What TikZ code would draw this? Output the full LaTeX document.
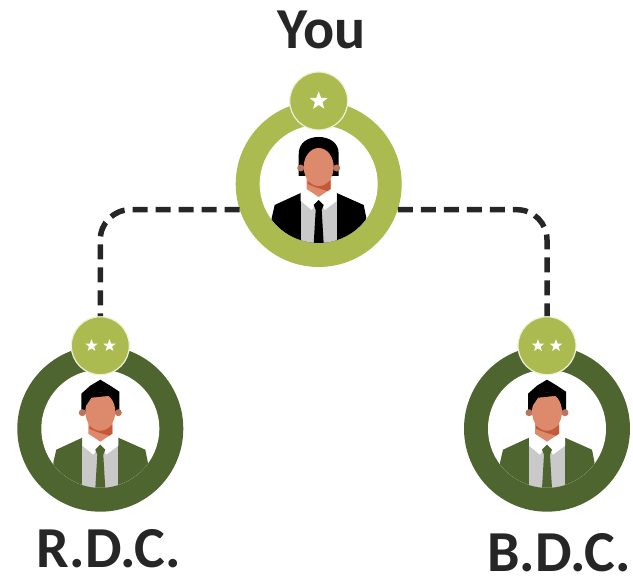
\documentclass[tikz,border=0pt]{standalone}
\usepackage{fontspec}
\setmainfont{Carlito}
\usetikzlibrary{shapes.geometric}
\definecolor{lightgreen}{HTML}{ABBB50}
\definecolor{darkgreen}{HTML}{4F6530}
\definecolor{paleedge}{HTML}{EEF1D8}
\definecolor{linegray}{HTML}{262626}
\definecolor{skin}{HTML}{DD8A6C}
\definecolor{skindark}{HTML}{C4593A}
\definecolor{shirtgray}{HTML}{C9C9C9}
\newcommand{\hairboss}{
  \fill[black] (-20,-8) -- (-20,-30) .. controls (-20,-42) and (-10,-47) .. (0,-47)
    .. controls (10,-47) and (20,-42) .. (20,-30) -- (20,-8) -- cycle;
}
\newcommand{\hairstaff}{
  \fill[black] (-19,-15) -- (-19,-35) -- (-10,-43) -- (0,-49) -- (10,-43) -- (19,-37) -- (19,-15) -- cycle;
  \fill[black] (-15,-34) -- (15,-34) -- (15,-25) -- (11,-34) -- (-10,-32) -- (-15,-22) -- cycle;
}
\tikzset{
  ring/.style={circle,minimum size=166pt,inner sep=0pt},
  hole/.style={circle,fill=white,minimum size=118pt,inner sep=0pt},
  badge/.style={circle,fill=lightgreen,draw=paleedge,line width=1.2pt,minimum size=58pt,inner sep=0pt},
  starmark/.style={star,star points=5,star point ratio=2.4,fill=white,minimum size=#1,inner sep=0pt},
  link/.style={linegray,line width=5.5pt,dash pattern=on 15pt off 8pt,rounded corners=30pt},
  title/.style={font=\fontsize{58}{60}\selectfont\bfseries,text=linegray,inner sep=0pt},
  pics/person/.style n args={2}{code={
    \begin{scope}
      \clip (0,0) circle (59);
      % Chaqueta y camisa
      \fill[#1] (-47,34) -- (-44,21) -- (-18,9) -- (18,9) -- (45,21) -- (48,36) -- (48,60) -- (-47,60) -- cycle;
      \fill[shirtgray] (-18,9) rectangle (18,60);
      % Cuello
      \fill[white] (-18,9) -- (-12,2) -- (12,2) -- (18,9) -- (18,17) -- (6,26) -- (0,16) -- (-7,26) -- (-18,17) -- cycle;
      \fill[#1] (0,16) -- (-5,21) -- (-3,26) -- (-5,60) -- (5,60) -- (3,26) -- (5,21) -- cycle;
    \end{scope}
    % Cabeza
    #2
    \fill[skin] (-12,-8) -- (12,-8) -- (12,5) -- (0,13) -- (-12,5) -- cycle;
    \fill[skindark] (-11,-3) .. controls (-4,2) and (6,2) .. (12,-4) -- (12,5) -- (9,7) .. controls (2,5) and (-5,3) .. (-11,0) -- cycle;
    \fill[skin!85!black] (-18,-16) circle (3.5) (18,-16) circle (3.5);
    \fill[skin] (0,-17) ellipse (15 and 19);
    \ifx#2\hairstaff
      \fill[black] (-15,-36) -- (15,-36) -- (15,-27) -- (10,-33) -- (-9,-31) -- (-15,-22) -- cycle;
    \else
      \fill[black] (-15,-24) .. controls (-14,-33) and (-8,-37) .. (0,-37) .. controls (8,-37) and (14,-33) .. (15,-24) -- (15,-38) -- (-15,-38) -- cycle;
    \fi
  }}
}
\begin{document}
\begin{tikzpicture}[x=1pt,y=-1pt]
  \useasboundingbox (0,0) rectangle (633,577);

  % Aros
  \node[ring,fill=lightgreen] (you) at (318.7,184) {};
  \node[ring,fill=darkgreen] (rdc) at (100.3,428.7) {};
  \node[ring,fill=darkgreen] (bdc) at (547,428.7) {};
  \node[hole] (youhole) at (you) {};
  \node[hole] (rdchole) at (rdc) {};
  \node[hole] (bdchole) at (bdc) {};

  % Personas
  \pic (youman) at (you) {person={black}{\hairboss}};
  \pic (rdcman) at (rdc) {person={darkgreen}{\hairstaff}};
  \pic (bdcman) at (bdc) {person={darkgreen}{\hairstaff}};

  % Insignias
  \node[badge] (youbadge) at (318.7,101) {};
  \node[badge] (rdcbadge) at (100.3,345.7) {};
  \node[badge] (bdcbadge) at (547,345.7) {};
  \node[starmark=19pt] (youstar) at (youbadge) {};
  \node[starmark=13pt] (rdcstara) at (91.5,345.7) {};
  \node[starmark=13pt] (rdcstarb) at (109.5,345.7) {};
  \node[starmark=13pt] (bdcstara) at (538,345.7) {};
  \node[starmark=13pt] (bdcstarb) at (556,345.7) {};

  % Conectores
  \draw[link] (you.198) -| (rdcbadge.north);
  \draw[link] (you.-18) -| (bdcbadge.north);

  % Textos
  \node[title] (youlabel) at (321.5,30) {You};
  \node[title] (rdclabel) at (109,549) {R.D.C.};
  \node[title] (bdclabel) at (559,553) {B.D.C.};
\end{tikzpicture}
\end{document}
